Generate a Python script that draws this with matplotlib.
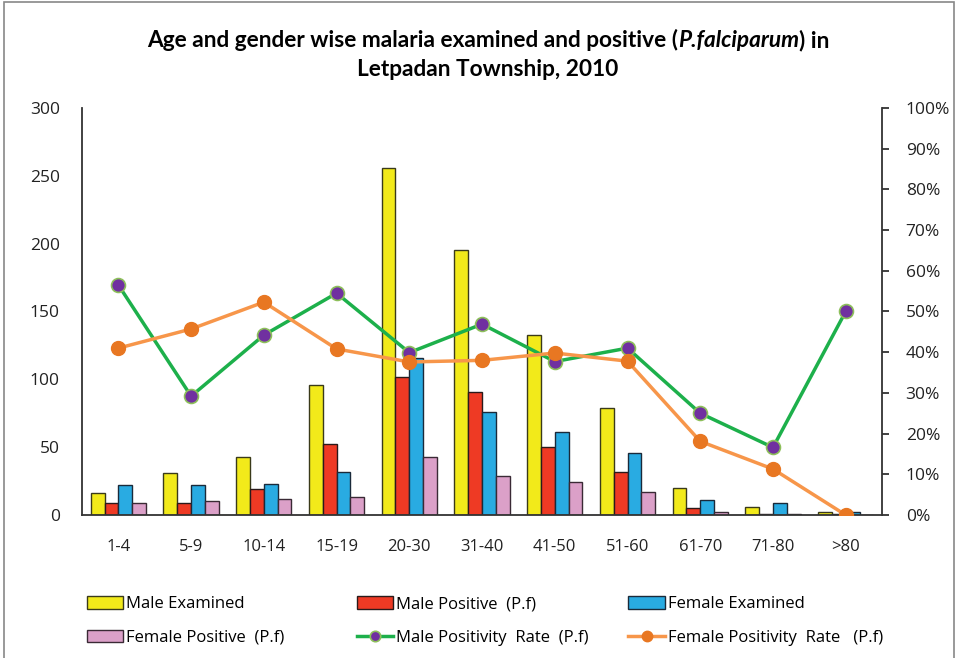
import numpy as np
import matplotlib.pyplot as plt
from matplotlib.patches import Rectangle
from matplotlib.ticker import PercentFormatter

plt.rcParams['font.family'] = ['Open Sans', 'DejaVu Sans']

age_groups = ['1-4', '5-9', '10-14', '15-19', '20-30', '31-40', '41-50', '51-60', '61-70', '71-80', '>80']
male_examined = [16, 31, 43, 96, 256, 195, 133, 79, 20, 6, 2]
male_positive = [9, 9, 19, 52, 102, 91, 50, 32, 5, 1, 1]
female_examined = [22, 22, 23, 32, 116, 76, 61, 46, 11, 9, 2]
female_positive = [9, 10, 12, 13, 43, 29, 24, 17, 2, 1, 0]
male_rate = [56.5, 29.2, 44.2, 54.5, 39.9, 46.9, 37.7, 41.0, 25.0, 16.6, 50.0]
female_rate = [41.0, 45.7, 52.3, 40.8, 37.6, 38.0, 39.8, 37.8, 18.1, 11.3, 0.0]

fig = plt.figure(figsize=(9.57, 6.58), dpi=100)
ax = fig.add_axes([0.0857, 0.2173, 0.836, 0.6186])

x = np.arange(len(age_groups))
w = 0.19
bar_specs = [
    (male_examined, '#F2EA1A', '#3a3a1a', 'Male Examined'),
    (male_positive, '#EE3A24', '#2a1a1a', 'Male Positive  (P.f)'),
    (female_examined, '#29ABE2', '#1a2a3a', 'Female Examined'),
    (female_positive, '#DBA0C8', '#3a2a35', 'Female Positive  (P.f)'),
]
handles = []
for i, (vals, fc, ec, lab) in enumerate(bar_specs):
    b = ax.bar(x + (i - 1.5) * w, vals, width=w, color=fc, edgecolor=ec,
               linewidth=1.0, label=lab)
    handles.append(b)

ax.set_xlim(-0.5, len(age_groups) - 0.5)
ax.set_ylim(0, 300)
ax.set_yticks(range(0, 301, 50))
ax.set_xticks(x)
ax.set_xticklabels(age_groups)
ax.tick_params(axis='x', length=0, pad=17, labelsize=12, labelcolor='#222222')
ax.tick_params(axis='y', length=0, labelsize=12.5, pad=16, labelcolor='#222222')
for s in ['top', 'right']:
    ax.spines[s].set_visible(False)
for s in ['left', 'bottom']:
    ax.spines[s].set_color('#333333')
    ax.spines[s].set_linewidth(1.3)

ax2 = ax.twinx()
l1, = ax2.plot(x, male_rate, color='#1DB04B', linewidth=2.5, marker='o',
               markersize=10, markerfacecolor='#7030A0',
               markeredgecolor='#8DBF5A', markeredgewidth=1.2,
               label='Male Positivity  Rate  (P.f)')
l2, = ax2.plot(x, female_rate, color='#F7964A', linewidth=2.5, marker='o',
               markersize=10, markerfacecolor='#E87722',
               markeredgecolor='#E87722', label='Female Positivity  Rate   (P.f)')
ax2.set_ylim(0, 100)
ax2.set_yticks(range(0, 101, 10))
ax2.yaxis.set_major_formatter(PercentFormatter(decimals=0))
ax2.tick_params(axis='y', length=5, labelsize=12.5, color='#333333', pad=12,
                labelcolor='#222222', width=1.3)
for s in ['top', 'left', 'bottom']:
    ax2.spines[s].set_visible(False)
ax2.spines['right'].set_color('#333333')
ax2.spines['right'].set_linewidth(1.3)

# title, first line built from pieces so the species name can be italic
title_kw = dict(fontsize=16.3, fontweight='bold', family='Lato', va='center')
pieces = [('Age and gender wise malaria examined and positive (', 'normal'),
          ('P.falciparum', 'italic'),
          (') in', 'normal')]
renderer = fig.canvas.get_renderer()
texts = [fig.text(0, 0.939, s, style=st, **title_kw) for s, st in pieces]
widths = [t.get_window_extent(renderer).width for t in texts]
xpos = 0.51 * fig.bbox.width - sum(widths) / 2
for t, wd in zip(texts, widths):
    t.set_x(xpos / fig.bbox.width)
    xpos += wd
fig.text(0.51, 0.894, 'Letpadan Township, 2010', ha='center', **title_kw)

# three legend columns, two entries each
columns = [([handles[0], handles[3]], 0.082),
           ([handles[1], l1], 0.364),
           ([handles[2], l2], 0.648)]
for hs, xl in columns:
    fig.legend(handles=hs, labels=[h.get_label() for h in hs], ncol=1,
               loc='upper left', bbox_to_anchor=(xl, 0.107), frameon=False,
               fontsize=12, handlelength=2.2, handleheight=0.8, markerscale=0.75,
               handletextpad=0.15, labelspacing=1.05, borderpad=0)

fig.patches.append(Rectangle((0.004, -0.01), 0.993, 1.007, transform=fig.transFigure,
                             fill=False, edgecolor='#888888', linewidth=1.2))

fig.savefig('out.png', dpi=100)
